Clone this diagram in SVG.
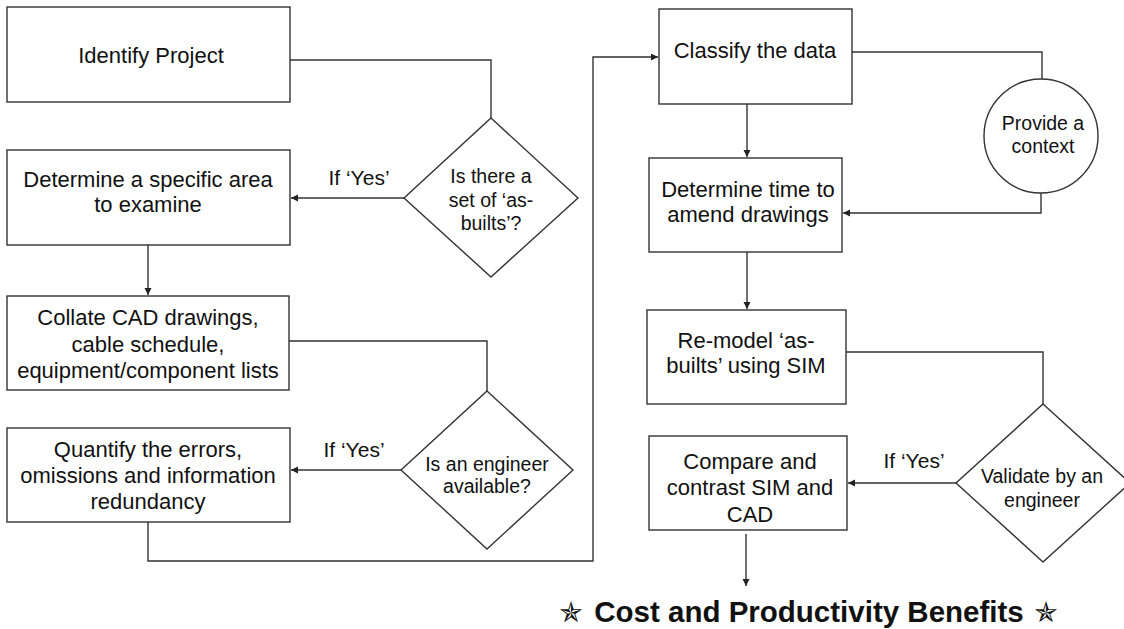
<svg xmlns="http://www.w3.org/2000/svg" width="1124" height="629" viewBox="0 0 1124 629">
<style>
.box{fill:#fff;stroke:#333;stroke-width:1.4}
.ln{fill:none;stroke:#333;stroke-width:1.4}
.t{font-family:"Liberation Sans",Arial,sans-serif;font-size:22px;fill:#111;text-anchor:middle}
.d{font-family:"Liberation Sans",Arial,sans-serif;font-size:19.5px;fill:#111;text-anchor:middle}
.y{font-family:"Liberation Sans",Arial,sans-serif;font-size:21px;fill:#111;text-anchor:middle}
.b{font-family:"Liberation Sans",Arial,sans-serif;font-size:29.5px;font-weight:bold;fill:#111;text-anchor:middle}
.s{font-family:"DejaVu Sans",sans-serif;font-size:28px;fill:#111;text-anchor:middle}
</style>
<defs>
<marker id="ah" markerUnits="userSpaceOnUse" markerWidth="8" markerHeight="8" refX="7" refY="3.5" orient="auto">
<path d="M0,0 L7,3.5 L0,7 z" fill="#222"/>
</marker>
</defs>
<rect width="1124" height="629" fill="#fff"/>
<g id="connectors">
<polyline class="ln" points="290,60 491,60 491,118"/>
<line class="ln" x1="404" y1="198" x2="291" y2="198" marker-end="url(#ah)"/>
<line class="ln" x1="148" y1="245" x2="148" y2="295" marker-end="url(#ah)"/>
<polyline class="ln" points="289,341 487,341 487,391"/>
<line class="ln" x1="401" y1="470" x2="291" y2="470" marker-end="url(#ah)"/>
<polyline class="ln" points="148,522 148,561 593,561 593,57 658,57" marker-end="url(#ah)"/>
<polyline class="ln" points="852,52 1042,52 1042,79"/>
<polyline class="ln" points="1041,193 1041,213 843,213" marker-end="url(#ah)"/>
<line class="ln" x1="747" y1="104" x2="747" y2="157" marker-end="url(#ah)"/>
<line class="ln" x1="747" y1="252" x2="747" y2="309" marker-end="url(#ah)"/>
<polyline class="ln" points="846,352 1043,352 1043,404"/>
<line class="ln" x1="956" y1="483" x2="848" y2="483" marker-end="url(#ah)"/>
<line class="ln" x1="746" y1="534" x2="746" y2="586" marker-end="url(#ah)"/>
</g>
<g id="identify-project">
<rect class="box" x="7" y="7" width="283" height="95"/>
<text class="t" x="151" y="63">Identify Project</text>
</g>
<g id="decision-asbuilts">
<polygon class="box" points="491,118 578,198 491,277 404,198"/>
<text class="d" x="491" y="183">Is there a</text>
<text class="d" x="491" y="207">set of ‘as-</text>
<text class="d" x="491" y="230">builts’?</text>
</g>
<text class="y" x="359" y="185">If ‘Yes’</text>
<g id="determine-area">
<rect class="box" x="7" y="150" width="283" height="95"/>
<text class="t" x="148" y="187">Determine a specific area</text>
<text class="t" x="148" y="212">to examine</text>
</g>
<g id="collate">
<rect class="box" x="7" y="296" width="282" height="94"/>
<text class="t" x="148" y="325">Collate CAD drawings,</text>
<text class="t" x="148" y="352">cable schedule,</text>
<text class="t" x="148" y="378">equipment/component lists</text>
</g>
<g id="decision-engineer">
<polygon class="box" points="487,391 573,470 487,549 401,470"/>
<text class="d" x="487" y="471">Is an engineer</text>
<text class="d" x="487" y="493">available?</text>
</g>
<text class="y" x="354" y="457">If ‘Yes’</text>
<g id="quantify">
<rect class="box" x="7" y="428" width="283" height="94"/>
<text class="t" x="148" y="457">Quantify the errors,</text>
<text class="t" x="148" y="483">omissions and information</text>
<text class="t" x="148" y="509">redundancy</text>
</g>
<g id="classify">
<rect class="box" x="659" y="9" width="193" height="95"/>
<text class="t" x="755" y="58">Classify the data</text>
</g>
<g id="provide-context">
<circle class="box" cx="1041" cy="136" r="57"/>
<text class="d" x="1043" y="130">Provide a</text>
<text class="d" x="1043" y="153">context</text>
</g>
<g id="determine-time">
<rect class="box" x="649" y="158" width="193" height="94"/>
<text class="t" x="748" y="197">Determine time to</text>
<text class="t" x="748" y="222">amend drawings</text>
</g>
<g id="remodel">
<rect class="box" x="647" y="310" width="199" height="94"/>
<text class="t" x="746" y="348">Re-model ‘as-</text>
<text class="t" x="746" y="373">builts’ using SIM</text>
</g>
<g id="decision-validate">
<polygon class="box" points="1043,404 1130,483 1043,562 956,483"/>
<text class="d" x="1042" y="483">Validate by an</text>
<text class="d" x="1042" y="507">engineer</text>
</g>
<text class="y" x="914" y="468">If ‘Yes’</text>
<g id="compare">
<rect class="box" x="649" y="436" width="198" height="94"/>
<text class="t" x="750" y="469">Compare and</text>
<text class="t" x="750" y="495">contrast SIM and</text>
<text class="t" x="750" y="522">CAD</text>
</g>
<g id="benefits">
<text class="s" x="571" y="622">✯</text>
<text class="b" x="809" y="622">Cost and Productivity Benefits</text>
<text class="s" x="1046" y="622">✯</text>
</g>
</svg>
